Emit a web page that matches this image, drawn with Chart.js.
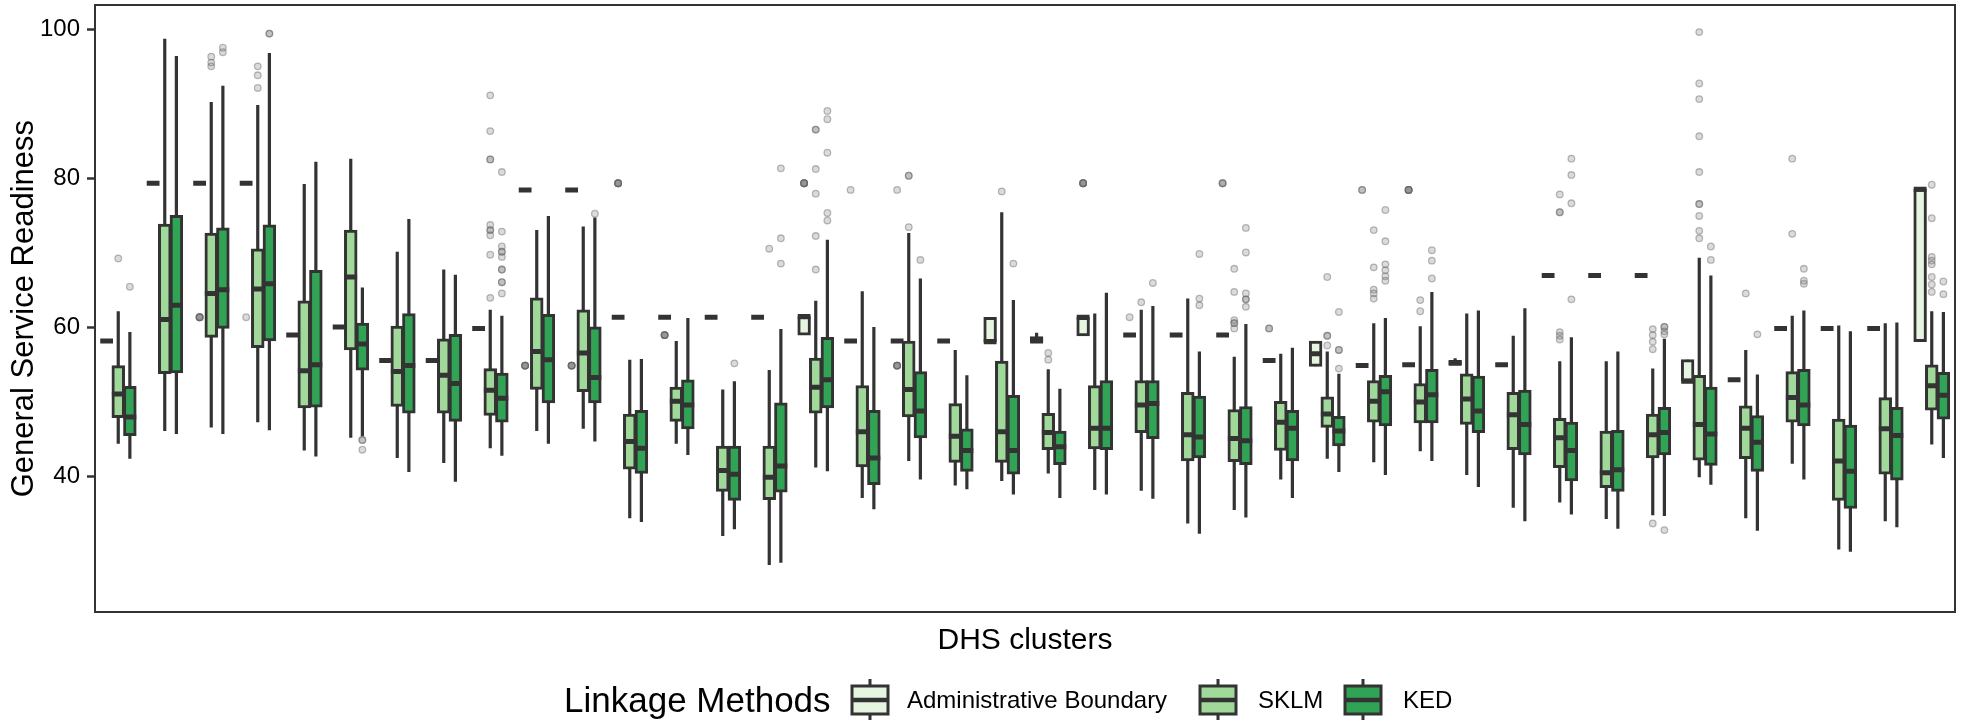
<!DOCTYPE html>
<html>
<head>
<meta charset="utf-8">
<title>General Service Readiness by DHS cluster</title>
<script src="https://cdn.jsdelivr.net/npm/chart.js@4"></script>
<style>
  html, body { margin: 0; background: #fff; }
  #wrap { position: relative; width: 1968px; height: 724px; font-family: "Liberation Sans", Arial, sans-serif; }
  #chart { position: absolute; left: 0; top: 0; }
  #legend { position: absolute; left: 0; top: 678px; width: 1968px; height: 44px; }
  #legend .item { position: absolute; top: 0; height: 44px; display: flex; align-items: center; color: #000; white-space: nowrap; }
  #legend .title { font-size: 35px; }
  #legend .label { font-size: 24px; }
</style>
</head>
<body>
<div id="wrap">
  <canvas id="chart" width="1968" height="724"></canvas>
  <div id="legend"></div>
</div>
<script>
// ── Data ─────────────────────────────────────────────────────────────────────
const clusters = ['C1','C2','C3','C4','C5','C6','C7','C8','C9','C10',
                  'C11','C12','C13','C14','C15','C16','C17','C18','C19','C20',
                  'C21','C22','C23','C24','C25','C26','C27','C28','C29','C30',
                  'C31','C32','C33','C34','C35','C36','C37','C38','C39','C40'];
const yTicks = [40, 60, 80, 100];
const yMin = 21.8, yMax = 103.3;

// Administrative Boundary — mostly a single value per cluster
const adminLow  = [58.2,79.4,79.4,79.4,59.0,60.1,55.6,55.6,59.9,78.5, 78.5,61.4,61.4,61.4,61.4,59.0,58.2,58.2,58.2,58.1,
                   58.0,58.9,59.0,59.0,59.0,55.6,54.8,54.9,55.0,55.0, 55.0,67.0,67.0,67.0,52.8,53.0,59.9,59.9,59.9,58.1];
const adminQ1   = [58.2,79.4,79.4,79.4,59.0,60.1,55.6,55.6,59.9,78.5, 78.5,61.4,61.4,61.4,61.4,59.0,58.2,58.2,58.2,58.1,
                   58.0,58.9,59.0,59.0,59.0,55.6,54.8,54.9,55.0,55.0, 55.0,67.0,67.0,67.0,52.8,53.0,59.9,59.9,59.9,58.1];
const adminMed  = [58.2,79.4,79.4,79.4,59.0,60.1,55.6,55.6,59.9,78.5, 78.5,61.4,61.4,61.4,61.4,61.5,58.2,58.2,58.2,58.1,
                   58.2,61.4,59.0,59.0,59.0,55.6,56.5,54.9,55.0,55.2, 55.0,67.0,67.0,67.0,52.8,53.0,59.9,59.9,59.9,78.6];
const adminQ3   = [58.2,79.4,79.4,79.4,59.0,60.1,55.6,55.6,59.9,78.5, 78.5,61.4,61.4,61.4,61.4,61.5,58.2,58.2,58.2,61.4,
                   58.8,61.4,59.0,59.0,59.0,55.6,58.2,54.9,55.0,55.6, 55.0,67.0,67.0,67.0,55.7,53.0,59.9,59.9,59.9,78.6];
const adminHigh = [58.2,79.4,79.4,79.4,59.0,60.1,55.6,55.6,59.9,78.5, 78.5,61.4,61.4,61.4,61.4,61.5,58.2,58.2,58.2,61.4,
                   59.3,61.4,59.0,59.0,59.0,55.6,58.2,54.9,55.0,55.9, 55.0,67.0,67.0,67.0,55.7,53.0,59.9,59.9,59.9,78.6];
const adminOut  = [[],[],[61.4,61.4,61.4,61.4,61.4],[61.4],[],[],[],[],[],[54.9,54.9,54.9,54.9,54.9],
                   [54.9,54.9,54.9,54.9,54.9],[79.4,79.4,79.4,79.4,79.4],[59.0,59.0,59.0,59.0,59.0],[],[],[79.4,79.4,79.4,79.4,79.4],[78.5],[78.5,54.9,54.9,54.9,54.9,54.9],[],[],
                   [],[79.4,79.4,79.4,79.4,79.4],[61.4],[],[79.4,79.4,79.4],[59.9,59.9],[],[78.5,78.5],[78.5,78.5,78.5,78.5,78.5],[],
                   [],[],[],[],[],[],[],[],[],[]];

// SKLM
const sklmLow  = [44.4,46.1,46.6,47.3,43.5,45.2,42.5,41.8,43.8,46.1, 46.4,34.4,44.4,32.0,28.1,41.2,37.1,42.1,38.8,39.4,
                  40.4,38.2,38.1,33.7,35.5,39.6,42.4,41.9,43.4,40.2, 35.8,36.5,34.3,34.8,39.9,34.4,41.7,30.2,34.0,44.3];
const sklmQ1   = [47.9,53.8,58.7,57.3,49.2,57.0,49.4,48.5,48.2,51.7, 51.4,41.0,47.4,38.0,36.9,48.5,41.3,48.0,41.9,41.9,
                  43.6,43.7,45.9,42.1,42.0,43.5,46.6,47.3,47.2,47.0, 43.6,41.2,38.5,42.5,42.2,42.4,47.3,36.8,40.3,48.9];
const sklmMed  = [51.1,61.1,64.6,65.2,54.2,66.8,54.1,53.6,51.6,56.8, 56.6,44.7,50.1,40.8,39.9,52.0,46.0,51.7,45.4,46.0,
                  45.9,46.5,49.6,45.6,45.1,47.3,48.4,50.1,50.0,50.4, 48.3,45.2,40.5,45.6,47.0,46.5,50.6,42.1,46.4,52.2];
const sklmQ3   = [54.9,73.9,72.7,70.6,63.6,73.1,60.2,58.5,54.5,64.0, 62.4,48.4,52.0,44.1,44.1,55.9,52.2,58.2,49.8,55.5,
                  48.5,52.2,52.9,51.3,49.0,50.1,50.7,52.9,52.5,53.8, 51.3,47.8,46.1,48.4,53.6,49.5,54.1,47.7,50.6,55.0];
const sklmHigh = [62.2,98.8,90.3,89.9,79.3,82.7,70.2,67.8,62.4,73.1, 73.6,55.7,58.2,51.7,54.3,63.6,64.9,72.7,57.0,75.5,
                  54.4,61.9,62.4,63.9,56.1,56.5,56.8,60.6,60.2,61.9, 58.9,55.5,55.5,54.5,69.4,57.0,61.6,60.3,60.6,62.2];
const sklmOut  = [[69.3],[],[96.4,95.6,95.1],[95.1,93.9,92.2],[],[],[],[],[91.2,86.4,82.6,82.6,73.8,73.1,73.1,72.4,69.8,64.0],[],
                  [],[],[],[],[70.6],[86.6,86.6,81.3,78.0,72.3,67.8],[],[80.4,80.4,73.5],[],[78.3],
                  [56.6,55.7],[],[63.4],[],[67.9,64.8,61.0,60.6,60.6,59.9],[],[66.8,58.9,58.9,57.6],[73.1,68.1,65.1,64.6,63.9],[63.7,62.2],[],
                  [],[77.9,75.5,75.5,59.4,58.9,58.4],[],[59.8,59.0,58.1,57.1,33.7],[99.7,92.8,90.7,85.7,80.9,76.6,76.6,75.0,73.0,72.0],[64.6],[82.7,72.6],[],[],[79.2,74.7,69.5,69.0,68.5,66.8,65.8,64.8]];

// KED
const kedLow  = [42.4,45.7,45.7,46.2,42.7,45.4,40.6,39.3,42.8,44.4, 44.7,33.9,42.9,32.9,28.4,40.7,35.6,39.6,38.3,37.6,
                 37.1,37.6,37.0,32.3,34.5,37.1,40.6,40.2,42.1,38.6, 34.0,34.9,33.0,34.7,38.9,32.7,39.6,29.9,33.2,42.5];
const kedQ1   = [45.5,53.9,59.9,58.2,49.3,54.3,48.5,47.4,47.3,49.9, 49.9,40.4,46.4,36.8,37.9,49.2,38.9,45.2,40.7,40.3,
                 41.6,43.6,45.1,42.5,41.6,42.1,44.1,46.8,47.2,45.9, 42.9,39.4,38.0,42.9,41.5,40.7,46.8,35.7,39.5,47.7];
const kedMed  = [48.0,63.0,65.1,65.9,55.0,57.8,54.9,52.5,50.5,55.7, 53.3,43.8,49.6,40.3,41.4,53.0,42.5,48.8,43.5,43.5,
                 44.0,46.5,49.8,45.3,44.8,46.5,46.1,51.4,51.0,48.8, 47.0,43.5,40.9,45.9,45.7,44.6,49.6,40.7,45.5,50.9];
const kedQ3   = [52.1,75.1,73.4,73.8,67.7,60.6,61.9,59.1,53.9,61.8, 60.1,48.9,53.0,44.1,49.9,58.7,48.9,54.1,46.4,50.9,
                 46.1,52.9,52.9,50.8,49.4,48.9,48.1,53.6,54.4,53.5, 51.6,47.3,46.2,49.3,52.0,48.2,54.4,46.9,49.3,54.0];
const kedHigh = [59.4,96.5,92.5,96.9,82.3,65.4,74.6,67.1,61.6,75.0, 74.8,55.8,61.3,52.8,59.8,71.8,60.1,66.6,53.6,63.7,
                 51.8,64.7,62.9,56.8,60.5,57.3,53.8,61.3,64.8,62.3, 62.6,58.7,56.8,58.5,67.0,53.7,62.3,59.5,60.7,62.1];
const kedOut  = [[65.5],[],[97.6,97.0],[99.5,99.5],[],[44.9,44.9,43.6],[],[],[80.9,72.9,70.9,70.2,70.2,69.5,67.8,67.8,66.1,66.1,64.6],[],
                 [75.3],[],[],[55.2],[81.4,72.0,68.6],[89.1,88.0,83.5,75.4,74.4],[],[69.1],[],[68.6],
                 [],[],[66.0],[69.9,63.9,63.0],[73.4,70.1,64.6,63.8,63.8,62.8],[],[62.1,57.0,57.0,54.5],[75.8,71.6,68.5,67.7,66.9,66.3],[70.4,69.0,66.6],[],
                 [],[82.7,80.5,76.7,63.8],[],[60.1,60.1,59.5,59.1,32.8],[70.9,69.1],[59.1],[67.9,66.3,65.9],[],[],[66.2,64.5]];

// ── Series setup ─────────────────────────────────────────────────────────────
const INK = '#333333';
const BOX_PX = 12.8;          // box thickness in pixels
const halfBox = 0.1376;       // half a box, in cluster units (12.8px / 46.5px / 2)

const methods = [
  { label: 'Administrative Boundary', color: '#e5f5e0', off: -0.25,
    low: adminLow, q1: adminQ1, med: adminMed, q3: adminQ3, high: adminHigh, out: adminOut },
  { label: 'SKLM', color: '#a1d99b', off: 0,
    low: sklmLow, q1: sklmQ1, med: sklmMed, q3: sklmQ3, high: sklmHigh, out: sklmOut },
  { label: 'KED', color: '#31a354', off: 0.25,
    low: kedLow, q1: kedQ1, med: kedMed, q3: kedQ3, high: kedHigh, out: kedOut },
];

// whiskers (drawn first), boxes, median bars, outliers (drawn last)
const whiskerSets = methods.map(m => ({
  type: 'scatter', order: 4, showLine: true, spanGaps: false,
  data: m.low.flatMap((lo, i) => [{ x: i + m.off, y: lo }, { x: i + m.off, y: m.high[i] }, { x: i + m.off, y: null }]),
  borderColor: INK, borderWidth: 3.2, pointRadius: 0
}));
const boxSets = methods.map(m => ({
  type: 'bar', label: m.label, order: 3, grouped: false, barThickness: BOX_PX,
  data: m.q1.map((v, i) => ({ x: i + m.off, y: [v, m.q3[i]] })),
  backgroundColor: m.color, borderColor: INK, borderWidth: 3, borderSkipped: false
}));
const medianSets = methods.map(m => ({
  type: 'scatter', order: 2, showLine: true, spanGaps: false,
  data: m.med.flatMap((v, i) => [{ x: i + m.off - halfBox, y: v }, { x: i + m.off + halfBox, y: v }, { x: i + m.off + halfBox, y: null }]),
  borderColor: INK, borderWidth: 5, pointRadius: 0
}));
const outlierSets = methods.map(m => ({
  type: 'scatter', order: 1, showLine: false,
  data: m.out.flatMap((vals, i) => vals.map(v => ({ x: i + m.off, y: v }))),
  pointRadius: 3.3, pointBackgroundColor: 'rgba(125,125,125,0.28)',
  pointBorderColor: 'rgba(95,95,95,0.42)', pointBorderWidth: 1.3
}));

// ── Chart ────────────────────────────────────────────────────────────────────
Chart.defaults.font.family = '"Liberation Sans", Arial, sans-serif';
Chart.defaults.color = '#000';

new Chart(document.getElementById('chart'), {
  type: 'bar',
  data: { labels: clusters, datasets: [...whiskerSets, ...boxSets, ...medianSets, ...outlierSets] },
  options: {
    responsive: false, animation: false, devicePixelRatio: 1,
    layout: { padding: { left: 0, right: 13, top: 3, bottom: 64 } },
    plugins: { legend: { display: false }, tooltip: { enabled: false } },
    scales: {
      x: {
        type: 'linear', position: 'bottom', offset: false,
        min: -0.5, max: clusters.length - 0.5,
        ticks: { display: false }, grid: { display: false },
        border: { display: true, color: INK, width: 2 },
        title: { display: true, text: 'DHS clusters', font: { size: 30 }, color: '#000', padding: { top: 11, bottom: 1 } },
        afterFit: s => { s.height = 48; s.paddingLeft = 0; s.paddingRight = 0; }
      },
      xTop: {
        type: 'category', position: 'top', offset: false,
        ticks: { display: false }, grid: { display: false },
        border: { display: true, color: INK, width: 2 },
        afterFit: s => { s.height = 0; s.paddingLeft = 0; s.paddingRight = 0; }
      },
      y: {
        type: 'linear', position: 'left', min: yMin, max: yMax,
        afterBuildTicks: s => { s.ticks = yTicks.map(v => ({ value: v })); },
        ticks: { font: { size: 24 }, color: '#000', padding: 7 },
        grid: { display: true, drawOnChartArea: false, drawTicks: true, tickLength: 8, tickWidth: 2.5, tickColor: INK },
        border: { display: true, color: INK, width: 2 },
        title: { display: true, text: 'General Service Readiness', font: { size: 31 }, color: '#000', padding: { top: 6, bottom: 0 } },
        afterFit: s => { s.width = 95; s.paddingTop = 0; s.paddingBottom = 0; }
      },
      yr: {
        type: 'linear', position: 'right', min: yMin, max: yMax,
        ticks: { display: false }, grid: { display: false },
        border: { display: true, color: INK, width: 2 },
        afterFit: s => { s.width = 0; s.paddingTop = 0; s.paddingBottom = 0; }
      }
    }
  }
});

// ── Legend (ggplot style, one row under the axis title) ─────────────────────
function keyIcon(color) {
  return '<svg width="40" height="44" viewBox="0 0 40 44">' +
    '<line x1="20" y1="1" x2="20" y2="42" stroke="' + INK + '" stroke-width="3"/>' +
    '<rect x="2" y="8" width="36" height="28" fill="' + color + '" stroke="' + INK + '" stroke-width="3"/>' +
    '<line x1="2" y1="22" x2="38" y2="22" stroke="' + INK + '" stroke-width="4.5"/></svg>';
}
const legendEl = document.getElementById('legend');
const legendItems = [
  { left: 564,  html: '<span class="title">Linkage Methods</span>' },
  { left: 850,  html: keyIcon(methods[0].color) },
  { left: 907,  html: '<span class="label">' + methods[0].label + '</span>' },
  { left: 1198, html: keyIcon(methods[1].color) },
  { left: 1258, html: '<span class="label">' + methods[1].label + '</span>' },
  { left: 1343, html: keyIcon(methods[2].color) },
  { left: 1403, html: '<span class="label">' + methods[2].label + '</span>' },
];
legendItems.forEach(it => {
  const d = document.createElement('div');
  d.className = 'item';
  d.style.left = it.left + 'px';
  d.innerHTML = it.html;
  legendEl.appendChild(d);
});
</script>
</body>
</html>
